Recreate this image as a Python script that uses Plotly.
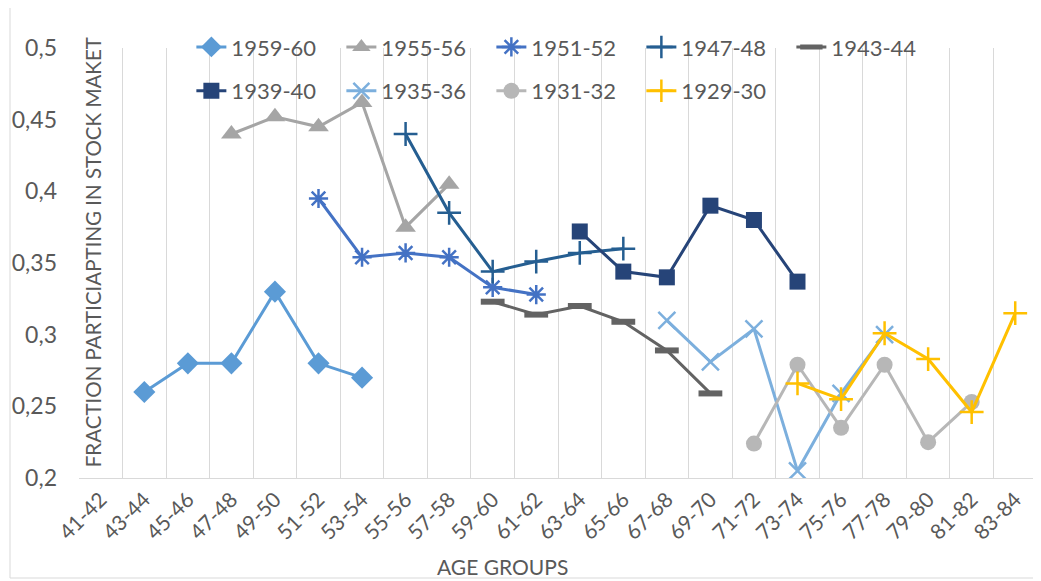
import plotly.graph_objects as go

age_groups = ["41-42", "43-44", "45-46", "47-48", "49-50", "51-52", "53-54", "55-56",
              "57-58", "59-60", "61-62", "63-64", "65-66", "67-68", "69-70", "71-72",
              "73-74", "75-76", "77-78", "79-80", "81-82", "83-84"]

c1959_x = ["43-44", "45-46", "47-48", "49-50", "51-52", "53-54"]
c1959_y = [0.26, 0.28, 0.28, 0.33, 0.28, 0.27]

c1955_x = ["47-48", "49-50", "51-52", "53-54", "55-56", "57-58"]
c1955_y = [0.44, 0.452, 0.445, 0.462, 0.375, 0.405]

c1951_x = ["51-52", "53-54", "55-56", "57-58", "59-60", "61-62"]
c1951_y = [0.395, 0.354, 0.357, 0.354, 0.333, 0.328]

c1947_x = ["55-56", "57-58", "59-60", "61-62", "63-64", "65-66"]
c1947_y = [0.44, 0.385, 0.344, 0.351, 0.357, 0.36]

c1943_x = ["59-60", "61-62", "63-64", "65-66", "67-68", "69-70"]
c1943_y = [0.323, 0.314, 0.32, 0.309, 0.289, 0.259]

c1939_x = ["63-64", "65-66", "67-68", "69-70", "71-72", "73-74"]
c1939_y = [0.372, 0.344, 0.34, 0.39, 0.38, 0.337]

c1935_x = ["67-68", "69-70", "71-72", "73-74", "75-76", "77-78"]
c1935_y = [0.31, 0.281, 0.304, 0.205, 0.259, 0.3]

c1931_x = ["71-72", "73-74", "75-76", "77-78", "79-80", "81-82"]
c1931_y = [0.224, 0.279, 0.235, 0.279, 0.225, 0.253]

c1929_x = ["73-74", "75-76", "77-78", "79-80", "81-82", "83-84"]
c1929_y = [0.266, 0.255, 0.301, 0.283, 0.246, 0.315]

y_ticks = [0.2, 0.25, 0.3, 0.35, 0.4, 0.45, 0.5]
y_tick_labels = ["0,2", "0,25", "0,3", "0,35", "0,4", "0,45", "0,5"]

FONT = "Lato, Open Sans, sans-serif"
TXT = "#595959"

series = [
    ("1959-60", c1959_x, c1959_y, "#5B9BD5", dict(symbol="diamond", size=17), "legend"),
    ("1955-56", c1955_x, c1955_y, "#A5A5A5", dict(symbol="triangle-up", size=18), "legend"),
    ("1951-52", c1951_x, c1951_y, "#4472C4", dict(symbol="asterisk-open", size=16, line=dict(width=2.5, color="#4472C4")), "legend"),
    ("1947-48", c1947_x, c1947_y, "#255E91", dict(symbol="cross-thin-open", size=17, line=dict(width=2.5, color="#255E91")), "legend"),
    ("1943-44", c1943_x, c1943_y, "#636363", dict(symbol="line-ew-open", size=17, line=dict(width=6, color="#636363")), "legend"),
    ("1939-40", c1939_x, c1939_y, "#264478", dict(symbol="square", size=16), "legend2"),
    ("1935-36", c1935_x, c1935_y, "#7CAFDD", dict(symbol="x-thin-open", size=17, line=dict(width=2.5, color="#7CAFDD")), "legend2"),
    ("1931-32", c1931_x, c1931_y, "#B7B7B7", dict(symbol="circle", size=16), "legend2"),
    ("1929-30", c1929_x, c1929_y, "#FFC000", dict(symbol="cross-thin-open", size=17, line=dict(width=2.5, color="#FFC000")), "legend2"),
]

fig = go.Figure()
for name, xs, ys, color, marker, lg in series:
    m = dict(color=color)
    m.update(marker)
    fig.add_trace(go.Scatter(x=xs, y=ys, name=name, mode="lines+markers",
                             line=dict(color=color, width=3), marker=m, legend=lg))

legend_common = dict(orientation="h", font=dict(family=FONT, size=22, color=TXT),
                     bgcolor="rgba(0,0,0,0)", entrywidth=105, entrywidthmode="pixels",
                     xanchor="left", yanchor="middle", itemclick=False)

# page has an ~8px body margin: figure is sized/offset to compensate
fig.update_layout(
    width=1033, height=573,
    margin=dict(l=71, r=4, t=40, b=103, autoexpand=False),
    paper_bgcolor="white", plot_bgcolor="white",
    font=dict(family=FONT, color=TXT),
    legend=dict(x=0.1173, y=1.002, **legend_common),
    legend2=dict(x=0.1173, y=0.9, **legend_common),
    xaxis=dict(type="category", categoryorder="array", categoryarray=age_groups,
               range=[-0.5, len(age_groups) - 0.5], tickson="boundaries",
               showgrid=True, gridcolor="#D9D9D9", gridwidth=1, automargin=False,
               showline=True, linecolor="#D9D9D9", ticks="", tickangle=-45,
               tickfont=dict(family=FONT, size=21, color=TXT)),
    yaxis=dict(range=[0.2, 0.5], tickvals=y_ticks, ticktext=y_tick_labels,
               showgrid=False, zeroline=False, showline=False, ticks="",
               ticklabelstandoff=21, automargin=False,
               tickfont=dict(family=FONT, size=23, color=TXT)),
    annotations=[
        dict(text="FRACTION PARTICIAPTING IN STOCK MAKET", textangle=-90,
             xref="paper", yref="paper", x=0, y=0.525, xanchor="left", yanchor="middle",
             showarrow=False, font=dict(family=FONT, size=20.5, color=TXT)),
        dict(text="AGE GROUPS", xref="paper", yref="paper", x=(502 - 79) / 958, y=0,
             yshift=-88, xanchor="center", yanchor="middle",
             showarrow=False, font=dict(family=FONT, size=21, color=TXT)),
    ],
    shapes=[dict(type="rect", xref="paper", yref="paper",
                 x0=-69 / 958, x1=1 + 3 / 958, y0=-100 / 430, y1=1 + 46 / 430,
                 line=dict(color="#D9D9D9", width=1))],
)

fig.write_html("out.html")
